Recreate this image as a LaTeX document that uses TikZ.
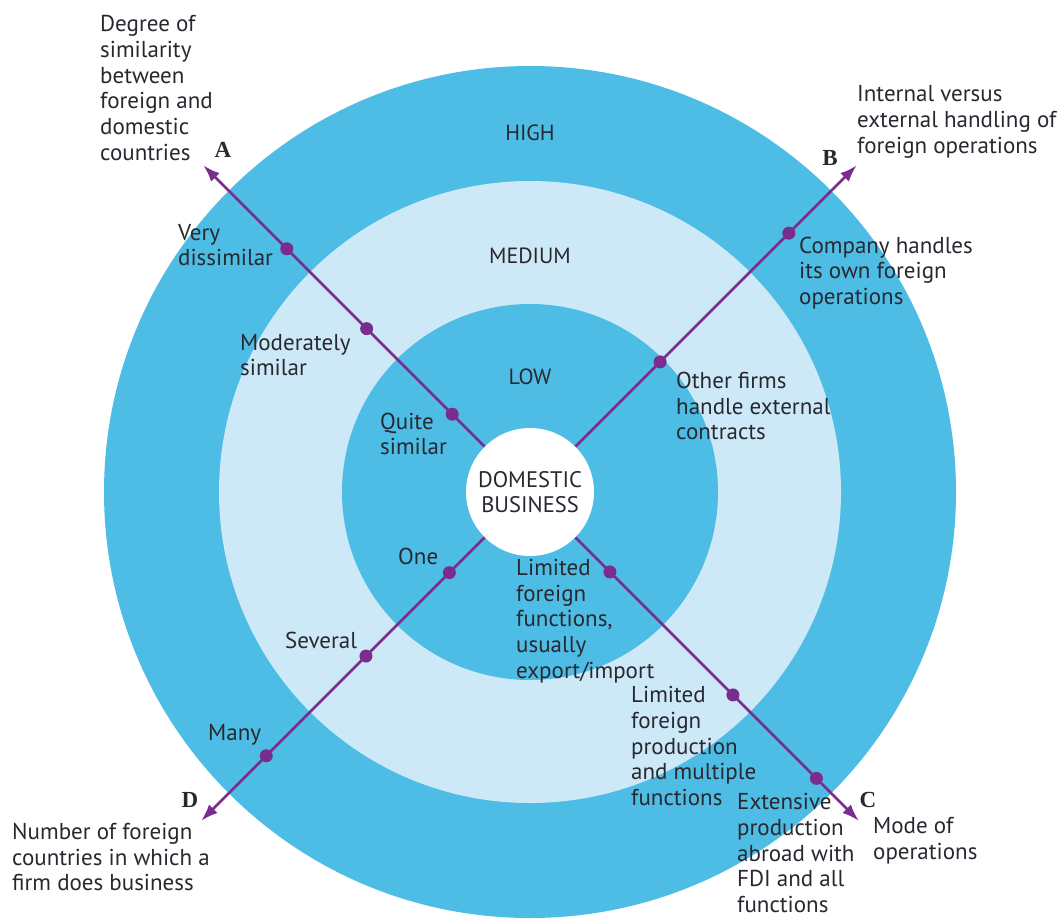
\documentclass[tikz,border=0pt]{standalone}
\usepackage{fontspec}
\setmainfont{PT Sans}
\newfontfamily\letterfont{Liberation Serif}
\usetikzlibrary{arrows.meta}
\definecolor{ringdark}{RGB}{77,189,229}
\definecolor{ringlight}{RGB}{205,233,248}
\definecolor{axispurple}{RGB}{123,45,142}
\definecolor{txt}{RGB}{40,40,48}
\tikzset{
	lbl/.style = {anchor=west, align=left, inner sep=0pt, text=txt,
			font=\fontsize{23}{25.7}\selectfont},
	ring/.style = {anchor=center, inner sep=0pt, text=txt,
			font=\fontsize{22}{25.7}\selectfont},
	letter/.style = {inner sep=0pt, text=txt, font=\letterfont\bfseries\fontsize{23}{24}\selectfont},
	axis/.style = {draw=axispurple, line width=2.6pt, -{Latex[length=17pt,width=12pt]}},
	dot/.style = {circle, fill=axispurple, inner sep=0pt, minimum size=13pt},
}
\begin{document}
\begin{tikzpicture}[x=1pt, y=-1pt]
	\path[use as bounding box] (0,0) rectangle (1062,919);
	\coordinate (c) at (530,492);
	\fill[ringdark] (c) circle[radius=426pt];
	\fill[ringlight] (c) circle[radius=311pt];
	\fill[ringdark] (c) circle[radius=188pt];
	\node[circle, fill=white, minimum size=128pt, inner sep=0pt, align=center, text=txt,
		font=\fontsize{22.5}{25.7}\selectfont] (dom) at (c) {DOMESTIC\\BUSINESS};

	% axes
	\coordinate (tipA) at ([shift={(135:462pt)}]c);
	\coordinate (tipB) at ([shift={(45:462pt)}]c);
	\coordinate (tipC) at ([shift={(-45:465pt)}]c);
	\coordinate (tipD) at ([shift={(-135:465pt)}]c);
	\draw[axis] (dom) -- (tipA);
	\draw[axis] (dom) -- (tipB);
	\draw[axis] (dom) -- (tipC);
	\draw[axis] (dom) -- (tipD);
	\foreach \ang/\r/\nm in {135/110/a1, 135/231/a2, 135/344/a3,
			45/184/b1, 45/366/b2,
			-45/113/c1, -45/287/c2, -45/405/c3,
			-135/114/d1, -135/232/d2, -135/373/d3}
		\node[dot] (\nm) at ([shift={(\ang:\r pt)}]c) {};

	% ring levels
	\node[ring] (high) at (530,133) {HIGH};
	\node[ring] (medium) at (530,256) {MEDIUM};
	\node[ring] (low) at (530,377) {LOW};

	% axis letters and titles
	\node[letter] (lA) at (223,150) {A};
	\node[letter] (lB) at (830,158) {B};
	\node[letter] (lC) at (868,800) {C};
	\node[letter] (lD) at (190,800) {D};
	\node[lbl] (degA) at (100,88) {Degree of\\similarity\\between\\foreign and\\domestic\\countries};
	\node[lbl] (intB) at (857,122) {Internal versus\\external handling of\\foreign operations};
	\node[lbl] (modeC) at (873,841) {Mode of\\operations};
	\node[lbl] (numD) at (12,857) {Number of foreign\\countries in which a\\firm does business};

	% values on the axes
	\node[lbl] (vdis) at (178,245) {Very\\dissimilar};
	\node[lbl] (modsim) at (240,355) {Moderately\\similar};
	\node[lbl] (quite) at (380,434) {Quite\\similar};
	\node[lbl] (comp) at (799,273) {Company handles\\its own foreign\\operations};
	\node[lbl] (other) at (676,406) {Other firms\\handle external\\contracts};
	\node[lbl] (one) at (398,556) {One};
	\node[lbl] (several) at (285,640) {Several};
	\node[lbl] (many) at (208,735) {Many};
	\node[lbl] (limfun) at (516,621) {Limited\\foreign\\functions,\\usually\\export/import};
	\node[lbl] (limprod) at (631,746) {Limited\\foreign\\production\\and multiple\\functions};
	\node[lbl] (ext) at (737,853) {Extensive\\production\\abroad with\\FDI and all\\functions};
\end{tikzpicture}
\end{document}
